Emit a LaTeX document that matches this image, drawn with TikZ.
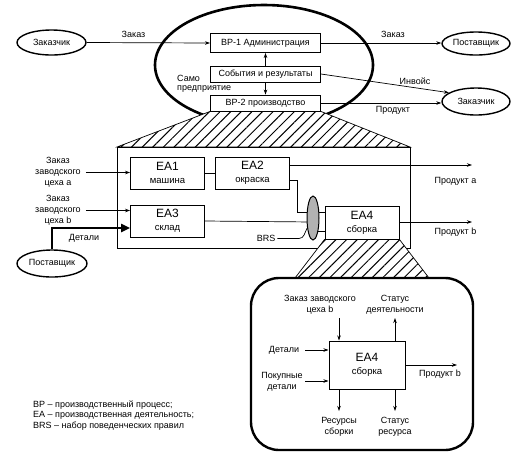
\documentclass[tikz,border=0pt]{standalone}
\usepackage{fontspec}
\setmainfont{Liberation Sans}
\usetikzlibrary{shapes.geometric,arrows.meta,patterns.meta}
\begin{document}
\begin{tikzpicture}[x=1pt,y=-1pt,
  font=\fontsize{9}{11}\selectfont,
  arr/.style={-{Stealth[length=5pt,width=3.5pt]}, line width=0.7pt},
  ln/.style={line width=0.7pt},
  ell/.style={ellipse, draw, line width=1.4pt, inner sep=0pt},
  bx/.style={rectangle, draw, line width=0.9pt, inner sep=0pt, minimum width=110pt},
  ea/.style={rectangle, draw, line width=0.9pt, inner sep=0pt, minimum width=74pt, minimum height=32pt, align=center, font=\fontsize{9.5}{13}\selectfont},
  big/.style={font=\fontsize{10.5}{13}\selectfont},
  lbl/.style={inner sep=0pt, align=center},
  hatch/.style={draw, line width=0.7pt, fill=white, postaction={pattern={Lines[angle=45,distance=7.5pt,line width=1pt]}}}
]
\useasboundingbox (0,0) rectangle (524,459);

% big ellipse
\draw[line width=2.6pt] (264,65) ellipse [x radius=109, y radius=60];

% outer ellipses
\node[ell, minimum width=69pt, minimum height=25pt] (zak1) at (51.5,42.5) {Заказчик};
\node[ell, minimum width=68pt, minimum height=23pt] (post1) at (476,43.5) {Поставщик};
\node[ell, minimum width=68pt, minimum height=27pt] (zak2) at (476,101.5) {Заказчик};
\node[ell, minimum width=70pt, minimum height=27pt] (post2) at (52,263.5) {Поставщик};

% upper boxes
\node[bx, minimum height=19pt] (bp1) at (265.5,43) {BP-1 Администрация};
\node[bx, minimum height=16pt] (sob) at (265.5,74) {События и результаты};
\node[bx, minimum height=16pt] (bp2) at (265.5,103) {BP-2 производство};

% hatched trapezoid 1
\path[hatch] (bp2.south west) -- (bp2.south east) -- (410,147) -- (117,147) -- cycle;

% big box
\node[draw, line width=1pt, minimum width=293pt, minimum height=101pt, inner sep=0pt] (bigbox) at (263.5,197.5) {};

% EA boxes
\node[ea] (ea1) at (167.5,173) {{\large EA1}\\машина};
\node[ea] (ea2) at (252.5,173) {{\large EA2}\\окраска};
\node[ea] (ea3) at (167.5,221) {{\large EA3}\\склад};
\node[ea, minimum height=33pt] (ea4) at (362,222.5) {{\large EA4}\\сборка};

% hatched trapezoid 2
\path[hatch] (ea4.south west) -- (ea4.south east) -- (429,278) -- (295,278) -- cycle;

% rounded box
\draw[line width=2.4pt, rounded corners=28pt] (251,278) rectangle (473,450);

% top labels
\node[lbl] (lz1) at (133.5,34) {Заказ};
\node[lbl] (lz2) at (393,34) {Заказ};
\node[lbl] (linv) at (415,81) {Инвойс};
\node[lbl] (lprod) at (393,110) {Продукт};
\node[lbl, anchor=west] (lsamo) at (177,78) {Само};
\node[lbl, anchor=west] (lpred) at (177,89) {предприятие};

% top connectors
\draw[arr] (zak1.east) -- (bp1.west);
\draw[arr] (bp1.east) -- (bp1.east -| post1.west);
\draw[arr] (sob.east) -- (zak2.162);
\draw[arr] (bp2.east) -- (bp2.east -| zak2.west);
\draw[arr] (sob.north) -- (bp1.south);
\draw[arr] (sob.south) -- (bp2.north);

% inputs to big box
\node[lbl] (inA) at (58,172.5) {Заказ\\заводского\\цеха a};
\node[lbl] (inB) at (58,210.5) {Заказ\\заводского\\цеха b};
\draw[arr] ([xshift=5pt]inA.east) -- (inA.east -| ea1.west);
\draw[arr] ([xshift=5pt]inB.east) -- (inB.east -| ea3.west);
\node[lbl] (ldet) at (84,238) {Детали};
\draw[line width=2.2pt, -{Triangle[length=9pt,width=8pt]}] (post2.north) |- ([yshift=-7pt]ea3.west);

% internal connectors
\draw[ln] (ea1.east) -- (ea2.west);
\coordinate (k1) at (297,212);
\draw[ln] ([yshift=-7pt]ea2.east) -| (k1) -- (k1 -| ea4.west);
\coordinate (k2) at (313,222);
\draw[ln] (ea3.east) -- (k2);
\coordinate (k3) at (313,231);
\draw[ln] (k3) -- (k3 -| ea4.west);

% products
\coordinate (pa) at (472,165);
\draw[arr] (ea2.east |- pa) -- (pa);
\node[lbl] (lpa) at (455.5,181) {Продукт a};
\coordinate (pb) at (472,222);
\draw[arr] (ea4.east |- pb) -- (pb);
\node[lbl] (lpb) at (455.5,232) {Продукт b};

% BRS
\node[ellipse, draw, line width=1pt, fill=gray!60, minimum width=12pt, minimum height=44pt, inner sep=0pt] (brs) at (313,218) {};
\node[lbl] (lbrs) at (266,238.5) {BRS};
\draw[ln] ([xshift=2pt]lbrs.east) -- (299,238.5) to[out=0,in=240] (brs.240);

% inner detail
\node[draw, line width=1pt, minimum width=76pt, minimum height=48pt, inner sep=0pt, align=center, font=\fontsize{9.5}{13}\selectfont] (ea4b) at (367,365) {{\large EA4}\\сборка};
\node[lbl] (lzb) at (320,304.5) {Заказ заводского\\цеха b};
\node[lbl] (lsd) at (395,304.5) {Статус\\деятельности};
\coordinate (t1) at (339,318);
\coordinate (t2) at (395,318);
\draw[arr] (t1) -- (t1 |- ea4b.north);
\draw[arr] (t2 |- ea4b.north) -- (t2);
\node[lbl] (ldet2) at (284,350) {Детали};
\node[lbl] (lpok) at (282,381.5) {Покупные\\детали};
\coordinate (l1) at (305,350);
\coordinate (l2) at (305,381);
\draw[arr] (l1) -- (l1 -| ea4b.west);
\draw[arr] (l2) -- (l2 -| ea4b.west);
\coordinate (r1) at (457,365);
\draw[arr] (ea4b.east) -- (r1);
\node[lbl] (lpb2) at (440,374) {Продукт b};
\coordinate (b1) at (339,411);
\coordinate (b2) at (395,411);
\draw[arr] (b1 |- ea4b.south) -- (b1);
\draw[arr] (b2 |- ea4b.south) -- (b2);
\node[lbl] (lres) at (339,426.5) {Ресурсы\\сборки};
\node[lbl] (lsr) at (395,426.5) {Статус\\ресурса};

% legend
\node[anchor=north west, align=left, inner sep=0pt, font=\fontsize{9}{10.5}\selectfont] (leg) at (33,400.5) {BP – производственный процесс;\\EA – производственная деятельность;\\BRS – набор поведенческих правил};
\end{tikzpicture}
\end{document}
